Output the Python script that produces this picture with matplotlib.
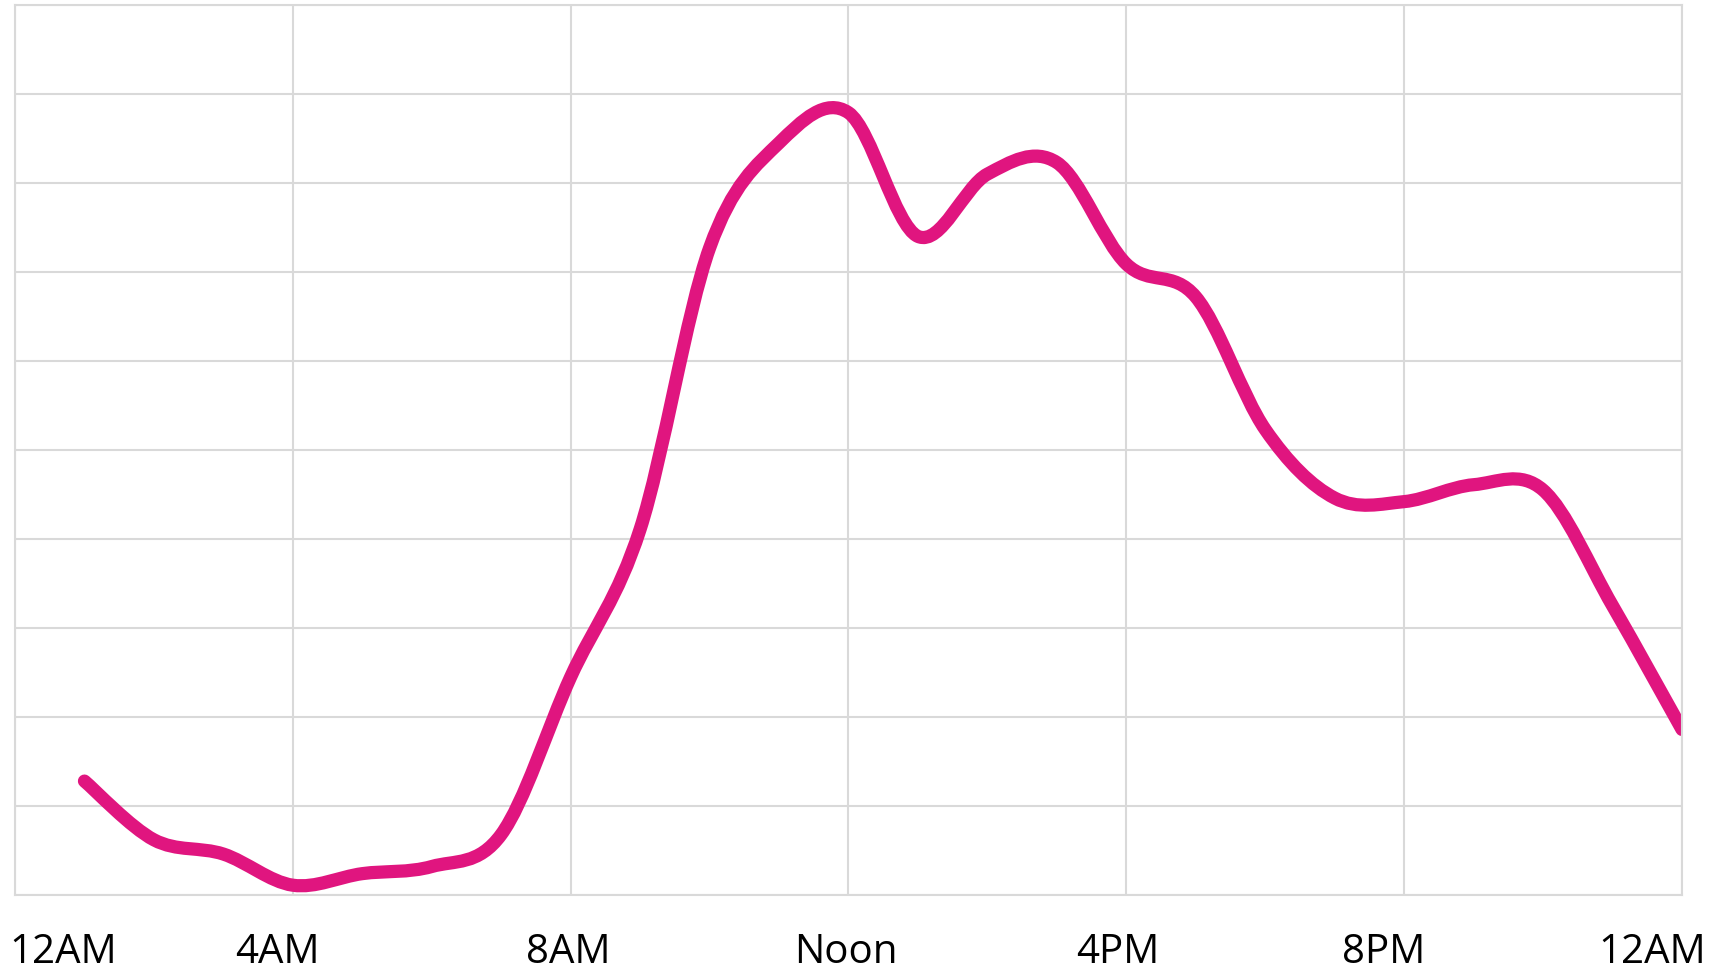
import numpy as np
import matplotlib
matplotlib.use("Agg")
import matplotlib.pyplot as plt
from matplotlib.path import Path
import matplotlib.patches as patches

# hourly values (1AM .. 12AM), relative scale 0-100
hours = [1, 2, 3, 4, 5, 6, 7, 8, 9, 10, 11, 12,
         13, 14, 15, 16, 17, 18, 19, 20, 21, 22, 23, 24]
values = [12.8, 6.2, 4.6, 1.1, 2.4, 3.2, 6.8, 24.5, 41.1, 72.7, 84.5, 87.9,
          74.0, 81.0, 82.3, 70.9, 67.2, 52.3, 44.6, 44.2, 46.1, 45.5, 32.5, 18.6]

tick_labels = ["12AM", "4AM", "8AM", "Noon", "4PM", "8PM", "12AM"]
label_pos = [0.7, 3.78, 7.97, 11.96, 15.88, 19.71, 23.57]

line_color = "#E0157F"
grid_color = "#D9D9D9"


def smooth_path(x, y, k=1/6):
    # catmull-rom style bezier like spreadsheet "smoothed line"
    x = np.asarray(x, float)
    y = np.asarray(y, float)
    n = len(x)
    verts = [(x[0], y[0])]
    codes = [Path.MOVETO]
    for i in range(n - 1):
        p0 = i - 1 if i > 0 else i
        p3 = i + 2 if i + 2 < n else i + 1
        c1 = (x[i] + (x[i + 1] - x[p0]) * k, y[i] + (y[i + 1] - y[p0]) * k)
        c2 = (x[i + 1] - (x[p3] - x[i]) * k, y[i + 1] - (y[p3] - y[i]) * k)
        verts += [c1, c2, (x[i + 1], y[i + 1])]
        codes += [Path.CURVE4] * 3
    return Path(verts, codes)


fig = plt.figure(figsize=(17.25, 9.75), dpi=100)
ax = fig.add_axes([15 / 1725, 80 / 975, 1667 / 1725, 890 / 975])

ax.set_xlim(0, 24)
ax.set_ylim(0, 100)

ax.set_xticks(range(0, 25, 4))
ax.set_xticklabels([])
ax.set_yticks(range(0, 101, 10))
ax.set_yticklabels([])
ax.tick_params(which="major", length=0)
ax.grid(True, color=grid_color, linewidth=1.5)
ax.set_axisbelow(True)
for s in ax.spines.values():
    s.set_color(grid_color)
    s.set_linewidth(1.5)

ax.set_xticks(label_pos, minor=True)
ax.set_xticklabels(tick_labels, minor=True, fontsize=29, family="Open Sans")
ax.tick_params(which="minor", length=0, pad=27)

line = patches.PathPatch(smooth_path(hours, values), fill=False,
                         edgecolor=line_color, linewidth=9.5, capstyle="round",
                         joinstyle="round")
ax.add_patch(line)

fig.savefig("out.png", dpi=100)
